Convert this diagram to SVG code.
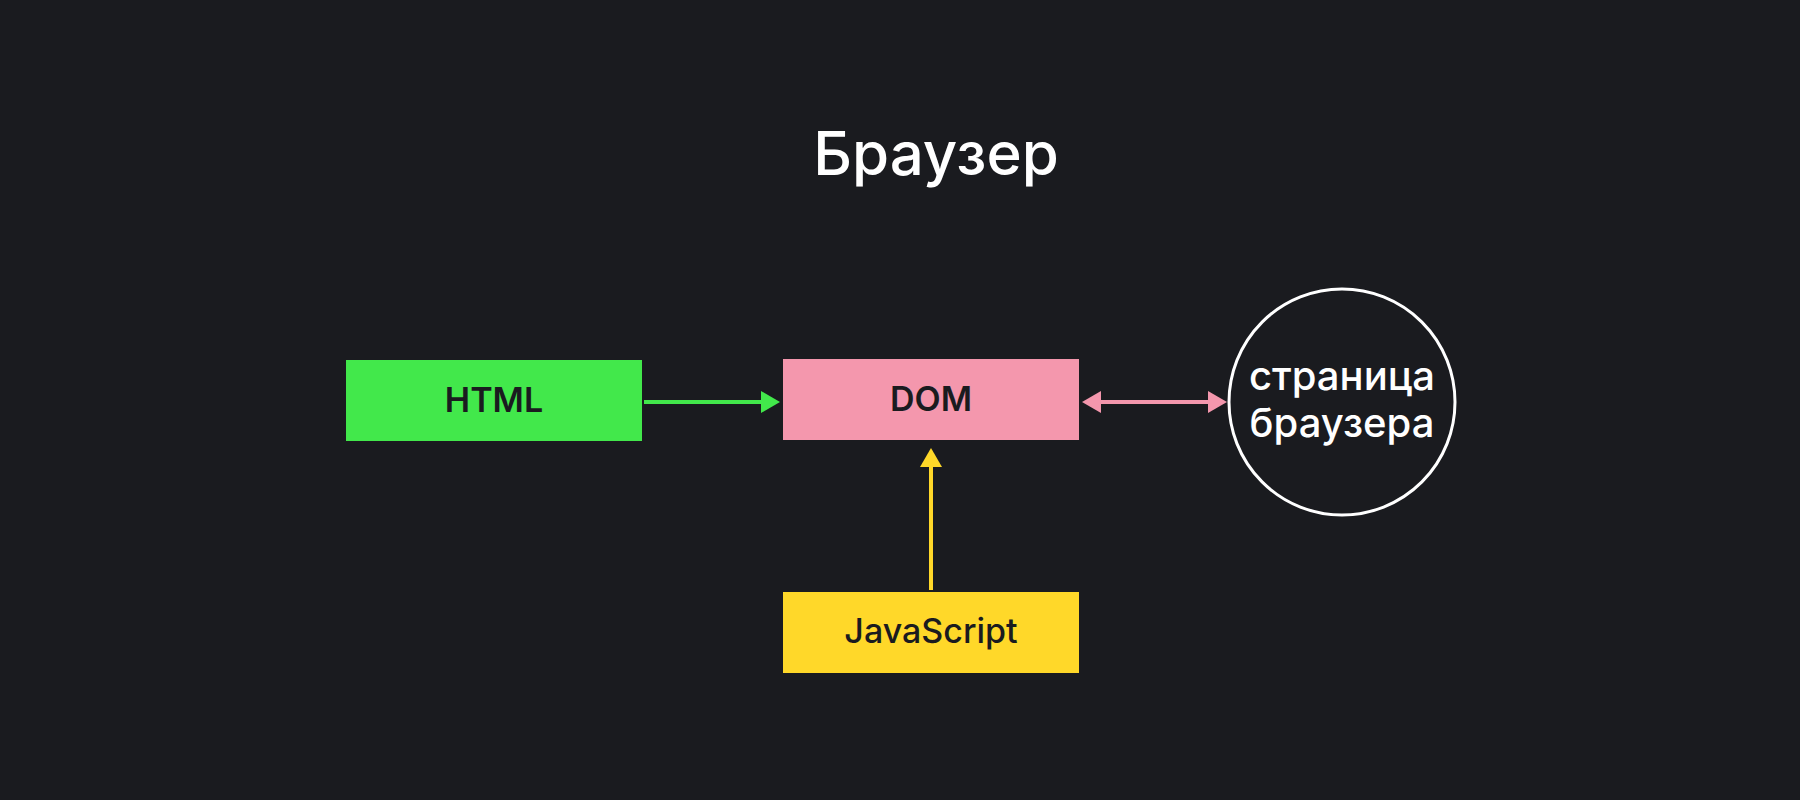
<svg xmlns="http://www.w3.org/2000/svg" width="1800" height="800" viewBox="0 0 1800 800">
  <style>
    .lbl { font-family: Inter, "Liberation Sans", Arial, sans-serif; font-size: 34px; font-weight: 600; fill: #1A1B1F; text-anchor: middle; }
    .wt { font-family: Inter, "Liberation Sans", Arial, sans-serif; font-weight: 500; fill: #FFFFFF; text-anchor: middle; }
    .conn { fill: none; stroke-width: 4; }
  </style>
  <defs>
    <marker id="ahG" markerUnits="userSpaceOnUse" markerWidth="20" markerHeight="22" refX="1" refY="11" orient="auto-start-reverse" viewBox="0 0 20 22">
      <path d="M0,0 L19,11 L0,22 Z" fill="#42E84B"/>
    </marker>
    <marker id="ahP" markerUnits="userSpaceOnUse" markerWidth="20" markerHeight="22" refX="1" refY="11" orient="auto-start-reverse" viewBox="0 0 20 22">
      <path d="M0,0 L19,11 L0,22 Z" fill="#F497AD"/>
    </marker>
    <marker id="ahY" markerUnits="userSpaceOnUse" markerWidth="20" markerHeight="22" refX="1" refY="11" orient="auto-start-reverse" viewBox="0 0 20 22">
      <path d="M0,0 L19,11 L0,22 Z" fill="#FFD829"/>
    </marker>
  </defs>
  <rect x="0" y="0" width="1800" height="800" fill="#1A1B1F"/>

  <g id="title">
    <text class="wt" x="936" y="175" font-size="60">Браузер</text>
  </g>

  <g id="connectors">
    <line class="conn" x1="644" y1="402" x2="762" y2="402" stroke="#42E84B" marker-end="url(#ahG)"/>
    <line class="conn" x1="1100" y1="402" x2="1209" y2="402" stroke="#F497AD" marker-start="url(#ahP)" marker-end="url(#ahP)"/>
    <line class="conn" x1="931" y1="590" x2="931" y2="466" stroke="#FFD829" marker-end="url(#ahY)"/>
  </g>

  <g id="node-html">
    <rect x="346" y="360" width="296" height="81" fill="#42E84B"/>
    <text class="lbl" x="494" y="412">HTML</text>
  </g>

  <g id="node-dom">
    <rect x="783" y="359" width="296" height="81" fill="#F497AD"/>
    <text class="lbl" x="931" y="411">DOM</text>
  </g>

  <g id="node-js">
    <rect x="783" y="592" width="296" height="81" fill="#FFD829"/>
    <text class="lbl" x="931" y="643" style="font-weight:500">JavaScript</text>
  </g>

  <g id="node-page">
    <circle cx="1342" cy="402" r="113" fill="#1A1B1F" stroke="#FFFFFF" stroke-width="3"/>
    <text class="wt" x="1342" y="390" font-size="40">страница</text>
    <text class="wt" x="1342" y="437" font-size="40">браузера</text>
  </g>
</svg>
